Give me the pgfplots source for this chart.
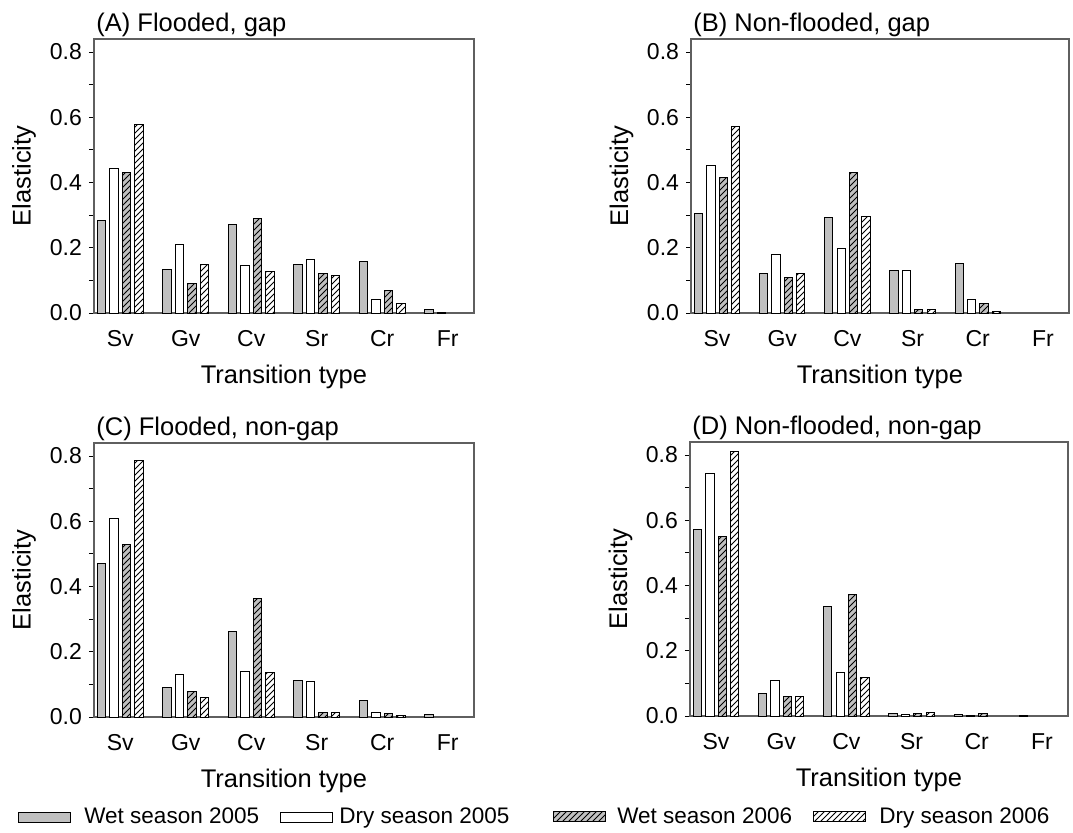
\documentclass[border=0pt]{standalone}
\usepackage{fontspec}
\setmainfont{Liberation Sans}
\usepackage{pgfplots}
\pgfplotsset{compat=1.18}
\usetikzlibrary{patterns}
\definecolor{barg}{RGB}{192,192,192}
\definecolor{framec}{RGB}{95,95,95}
\pgfplotsset{
  panel/.style={
    scale only axis, width=190pt, height=137pt,
    xmin=-0.4, xmax=5.4, ymin=0, ymax=0.84,
    xtick={0,1,2,3,4,5}, xticklabels={Sv,Gv,Cv,Sr,Cr,Fr},
    ytick={0,0.2,0.4,0.6,0.8}, minor ytick={0.1,0.3,0.5,0.7},
    tick align=outside, ytick pos=left, xtick pos=bottom,
    xtick style={draw=none},
    major tick length=2.5pt, minor tick length=2.5pt,
    every tick/.append style={black, line width=0.5pt},
    yticklabel style={/pgf/number format/.cd, fixed, fixed zerofill, precision=1},
    /pgf/number format/assume math mode=true,
    tick label style={font=\fontsize{11.5}{13}\selectfont},
    xticklabel style={anchor=base, yshift=-14.3pt, inner sep=0pt},
    xlabel={Transition type}, ylabel={Elasticity},
    every axis x label/.style={at={(axis description cs:0.5,0)}, anchor=base, yshift=-35pt, inner sep=0pt, font=\fontsize{12.75}{15}\selectfont},
    every axis y label/.style={at={(axis description cs:-0.184,0.5)}, rotate=90, anchor=center, font=\fontsize{12.75}{15}\selectfont},
    every axis title shift=0pt,
    title style={at={(axis description cs:0,1)}, anchor=base west, inner sep=0pt, xshift=1pt, yshift=3.6pt, font=\fontsize{12.75}{15}\selectfont},
    axis line style={framec, line width=0.6pt},
  },
  leg/.style n args={3}{legend style={at={(axis description cs:#1,#2)}, anchor=west, draw=none, fill=none, inner sep=0pt,
    font=\fontsize{11.25}{13}\selectfont, nodes={inner sep=0pt}, column sep=#3}},
  boxleg/.style={legend image code/.code={\draw[##1] (0pt,-2.5pt) rectangle (26pt,2.5pt);}},
  s1/.style={ybar, bar width=0.127, bar shift=-0.285, draw=black, line width=0.5pt, fill=barg, boxleg},
  s2/.style={ybar, bar width=0.127, bar shift=-0.095, draw=black, line width=0.5pt, fill=white, boxleg},
  s3/.style={ybar, bar width=0.127, bar shift=0.095, draw=black, line width=0.5pt, fill=barg, postaction={pattern=north east lines}, boxleg},
  s4/.style={ybar, bar width=0.127, bar shift=0.285, draw=black, line width=0.5pt, fill=white, postaction={pattern=north east lines}, boxleg},
}
\begin{document}
\begin{tikzpicture}
\useasboundingbox (0pt,0pt) rectangle (536.5pt,-416pt);
% (A)
\begin{axis}[panel, at={(47pt,-156.5pt)}, anchor=south west, title={(A) Flooded, gap},
  leg={1.2079}{-1.8394}{5.5pt}]
\addlegendimage{s3}
\addlegendentry{Wet season 2006}
\addplot[s1] coordinates {(0,0.283) (1,0.132) (2,0.270) (3,0.149) (4,0.157) (5,0.011)};
\addplot[s2] coordinates {(0,0.442) (1,0.211) (2,0.146) (3,0.164) (4,0.042) (5,0.002)};
\addplot[s3] coordinates {(0,0.431) (1,0.091) (2,0.289) (3,0.122) (4,0.070)};
\addplot[s4] coordinates {(0,0.579) (1,0.150) (2,0.128) (3,0.115) (4,0.030)};
\end{axis}
% (B)
\begin{axis}[panel, width=189pt, at={(345.5pt,-156.5pt)}, anchor=south west, title={(B) Non-flooded, gap},
  leg={0.3228}{-1.8394}{6.5pt}]
\addlegendimage{s4}
\addlegendentry{Dry season 2006}
\addplot[s1] coordinates {(0,0.304) (1,0.121) (2,0.294) (3,0.131) (4,0.152)};
\addplot[s2] coordinates {(0,0.452) (1,0.180) (2,0.197) (3,0.131) (4,0.040)};
\addplot[s3] coordinates {(0,0.417) (1,0.110) (2,0.430) (3,0.011) (4,0.030)};
\addplot[s4] coordinates {(0,0.573) (1,0.121) (2,0.297) (3,0.011) (4,0.005)};
\end{axis}
% (C)
\begin{axis}[panel, at={(47pt,-358.5pt)}, anchor=south west, title={(C) Flooded, non-gap},
  leg={-0.2}{-0.365}{6.5pt}]
\addlegendimage{s1}
\addlegendentry{Wet season 2005}
\addplot[s1] coordinates {(0,0.472) (1,0.090) (2,0.262) (3,0.111) (4,0.052) (5,0.007)};
\addplot[s2] coordinates {(0,0.608) (1,0.129) (2,0.139) (3,0.108) (4,0.014)};
\addplot[s3] coordinates {(0,0.528) (1,0.079) (2,0.363) (3,0.013) (4,0.010)};
\addplot[s4] coordinates {(0,0.786) (1,0.060) (2,0.136) (3,0.013) (4,0.004)};
\end{axis}
% (D)
\begin{axis}[panel, width=189pt, at={(345pt,-358pt)}, anchor=south west, title={(D) Non-flooded, non-gap},
  leg={-1.0847}{-0.3686}{3pt}]
\addlegendimage{s2}
\addlegendentry{Dry season 2005}
\addplot[s1] coordinates {(0,0.571) (1,0.069) (2,0.335) (3,0.007) (4,0.005) (5,0.002)};
\addplot[s2] coordinates {(0,0.742) (1,0.110) (2,0.133) (3,0.005) (4,0.003)};
\addplot[s3] coordinates {(0,0.549) (1,0.060) (2,0.372) (3,0.008) (4,0.007)};
\addplot[s4] coordinates {(0,0.811) (1,0.060) (2,0.117) (3,0.010)};
\end{axis}
\end{tikzpicture}
\end{document}
